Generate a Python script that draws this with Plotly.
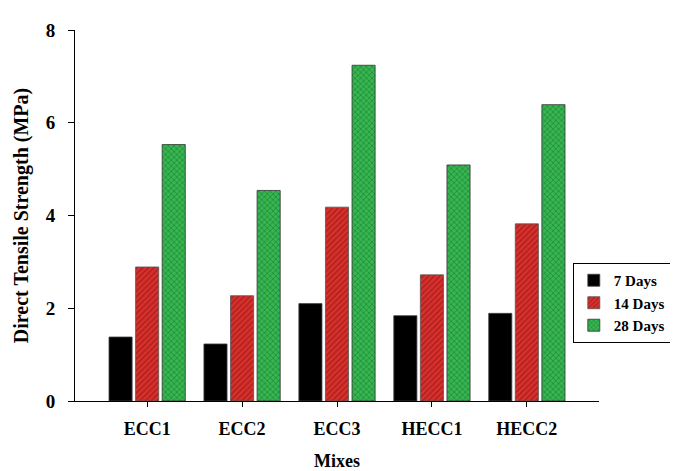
import plotly.graph_objects as go

mixes = ["ECC1", "ECC2", "ECC3", "HECC1", "HECC2"]
days7 = [1.38, 1.23, 2.10, 1.84, 1.89]
days14 = [2.89, 2.27, 4.18, 2.72, 3.82]
days28 = [5.53, 4.54, 7.24, 5.09, 6.39]
series_names = ["7 Days", "14 Days", "28 Days"]
y_ticks = [0, 2, 4, 6, 8]

FONT = "Liberation Serif"

fig = go.Figure()
fig.add_trace(go.Bar(
    x=mixes, y=days7, name=series_names[0],
    marker=dict(color="black", line=dict(color="#444", width=0.8)),
))
fig.add_trace(go.Bar(
    x=mixes, y=days14, name=series_names[1],
    marker=dict(color="#d42a2a", line=dict(color="#555", width=0.8),
                pattern=dict(shape="/", fgcolor="#6e0c0c", bgcolor="#d8302c",
                             size=4, solidity=0.3)),
))
fig.add_trace(go.Bar(
    x=mixes, y=days28, name=series_names[2],
    marker=dict(color="#2fae4a", line=dict(color="#333", width=0.8),
                pattern=dict(shape="x", fgcolor="#0a3012", bgcolor="#35b650",
                             size=4, solidity=0.25)),
))

fig.update_layout(
    width=678, height=471,
    margin=dict(l=67, r=87, t=20, b=72),
    paper_bgcolor="white", plot_bgcolor="white",
    barmode="group", bargap=0.16, bargroupgap=0.13,
    font=dict(family=FONT, color="black"),
    showlegend=True,
    legend=dict(
        x=0.95, y=0.372, xanchor="left", yanchor="top",
        bordercolor="black", borderwidth=1, bgcolor="white",
        font=dict(family=FONT, size=15, color="black", weight="bold"),
        tracegroupgap=0, itemwidth=30,
    ),
    xaxis=dict(
        range=[-0.76, 4.76], showline=True, linecolor="black", linewidth=1,
        ticks="outside", ticklen=5, tickcolor="black", ticklabelstandoff=6,
        tickfont=dict(family=FONT, size=18, color="black", weight="bold"),
        title=dict(text="Mixes", standoff=16,
                   font=dict(family=FONT, size=18, color="black", weight="bold")),
        showgrid=False, zeroline=False,
    ),
    yaxis=dict(
        range=[0, 8], tickvals=y_ticks, showline=True, linecolor="black", linewidth=1,
        ticks="outside", ticklen=6, tickcolor="black", ticklabelstandoff=9,
        tickfont=dict(family=FONT, size=19, color="black", weight="bold"),
        title=dict(text="Direct Tensile Strength (MPa)", standoff=11,
                   font=dict(family=FONT, size=20, color="black", weight="bold")),
        showgrid=False, zeroline=False,
    ),
)

fig.write_html("out.html")
